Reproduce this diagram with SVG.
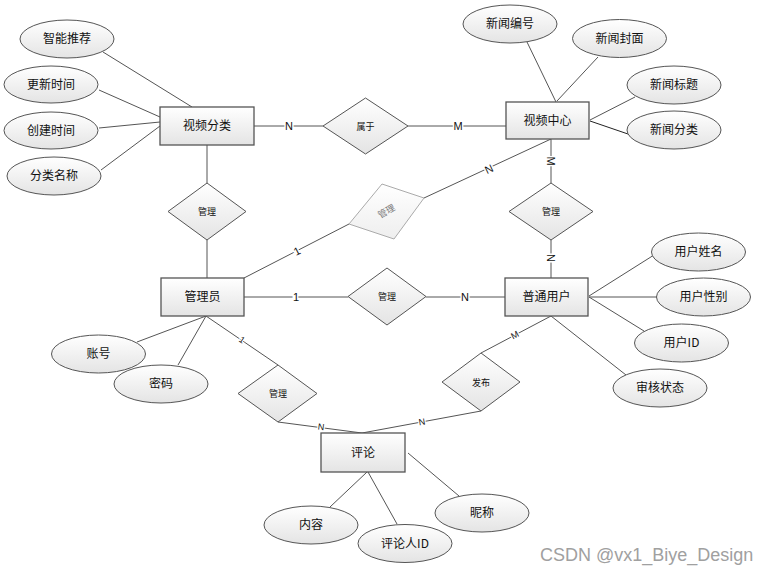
<svg xmlns="http://www.w3.org/2000/svg" width="771" height="574" viewBox="0 0 771 574">
<defs>
<linearGradient id="g" x1="0" y1="0" x2="0" y2="1"><stop offset="0" stop-color="#ffffff"/><stop offset="1" stop-color="#e4e4e4"/></linearGradient>
<linearGradient id="g2" x1="0" y1="0" x2="0" y2="1"><stop offset="0" stop-color="#ffffff"/><stop offset="1" stop-color="#eeeeee"/></linearGradient>
<style>
.ent rect{fill:url(#g);stroke:#555;stroke-width:1.3}
.att ellipse{fill:url(#g);stroke:#555;stroke-width:1}
.rel polygon{fill:url(#g);stroke:#555;stroke-width:1}
.t{font-family:"Noto Sans CJK SC","Liberation Sans",sans-serif;font-size:12px;fill:#111;text-anchor:middle}
.s{font-family:"Noto Sans CJK SC","Liberation Sans",sans-serif;font-size:9px;fill:#111;text-anchor:middle}
.c{font-family:"Liberation Sans",sans-serif;font-size:11px;fill:#111;text-anchor:middle;stroke:#fff;stroke-width:3;paint-order:stroke}
.cs{font-family:"Liberation Sans",sans-serif;font-size:9px;fill:#111;text-anchor:middle;stroke:#fff;stroke-width:2.5;paint-order:stroke}
#connectors line{stroke:#555;stroke-width:1}
</style>
</defs>
<rect width="771" height="574" fill="#fff"/>
<g id="connectors">
<line x1="103" y1="52" x2="192" y2="107"/>
<line x1="99" y1="90" x2="160" y2="117"/>
<line x1="99" y1="128" x2="160" y2="122"/>
<line x1="101" y1="170" x2="160" y2="126"/>
<line x1="254" y1="126" x2="323" y2="126"/>
<line x1="408" y1="126" x2="506" y2="126"/>
<line x1="207" y1="145" x2="207" y2="183"/>
<line x1="207" y1="240" x2="207" y2="278"/>
<line x1="551" y1="139" x2="551" y2="183"/>
<line x1="551" y1="240" x2="551" y2="278"/>
<line x1="244" y1="278" x2="349" y2="224"/>
<line x1="424" y1="198" x2="551" y2="139"/>
<line x1="244" y1="297" x2="348" y2="297"/>
<line x1="426" y1="297" x2="505" y2="297"/>
<line x1="206" y1="316" x2="137" y2="342"/>
<line x1="206" y1="316" x2="178" y2="365"/>
<line x1="206" y1="316" x2="278" y2="365"/>
<line x1="278" y1="422" x2="362" y2="433"/>
<line x1="362" y1="433" x2="481" y2="411"/>
<line x1="551" y1="316" x2="481" y2="353"/>
<line x1="551" y1="316" x2="626" y2="375"/>
<line x1="589" y1="296" x2="654" y2="255"/>
<line x1="589" y1="297" x2="657" y2="297"/>
<line x1="589" y1="297" x2="644" y2="331"/>
<line x1="556" y1="102" x2="527" y2="42"/>
<line x1="557" y1="101" x2="598" y2="57"/>
<line x1="590" y1="120" x2="635" y2="97"/>
<line x1="590" y1="121" x2="628" y2="134" style="stroke:#222"/>
<line x1="367" y1="472" x2="330" y2="507"/>
<line x1="368" y1="472" x2="397" y2="524"/>
<line x1="408" y1="453" x2="459" y2="496"/>
<text class="c" x="289" y="130">N</text>
<text class="c" x="458" y="130">M</text>
<text class="c" transform="translate(551,161) rotate(90)" y="4">M</text>
<text class="c" transform="translate(551,258) rotate(90)" y="4">N</text>
<text class="c" transform="translate(297,251) rotate(-27)" y="4">1</text>
<text class="c" transform="translate(489,169) rotate(-25)" y="4">N</text>
<text class="c" x="296" y="301">1</text>
<text class="c" x="465" y="301">N</text>
<text class="cs" transform="translate(242,340) rotate(34)" y="3">1</text>
<text class="cs" transform="translate(321,427) rotate(7)" y="3">N</text>
<text class="cs" transform="translate(422,422) rotate(-10)" y="3">N</text>
<text class="cs" transform="translate(515,335) rotate(-28)" y="3">M</text>
</g>
<g id="e-spfl" class="ent"><rect x="160" y="107" width="94" height="38"/><text class="t" x="207" y="130">视频分类</text></g>
<g id="e-spzx" class="ent"><rect x="506" y="102" width="83" height="37"/><text class="t" x="547.5" y="125">视频中心</text></g>
<g id="e-gly" class="ent"><rect x="161" y="278" width="83" height="38"/><text class="t" x="202.5" y="301">管理员</text></g>
<g id="e-ptyh" class="ent"><rect x="505" y="278" width="83" height="38"/><text class="t" x="546.5" y="301">普通用户</text></g>
<g id="e-pl" class="ent"><rect x="321" y="433" width="84" height="39"/><text class="t" x="363" y="457">评论</text></g>
<g id="r-sy" class="rel"><polygon points="365.5,98 408,126 365.5,154 323,126"/><text class="s" x="365.5" y="129.5">属于</text></g>
<g id="r-gl1" class="rel"><polygon points="207,183 246,211.5 207,240 168,211.5"/><text class="s" x="207" y="215">管理</text></g>
<g id="r-gl2" class="rel"><polygon points="551,183 593,211.5 551,240 509,211.5"/><text class="s" x="551" y="215">管理</text></g>
<g id="r-gl3" class="rel"><polygon points="382,184 424,198 394,239 349,224" style="fill:url(#g2);stroke:#aaa"/><text class="s" transform="translate(386.5,211.5) rotate(-30)" y="3" style="fill:#777">管理</text></g>
<g id="r-gl4" class="rel"><polygon points="387,268 426,296.5 387,325 348,296.5"/><text class="s" x="387" y="300">管理</text></g>
<g id="r-gl5" class="rel"><polygon points="278,365 317,393.5 278,422 238,393.5"/><text class="s" x="278" y="397">管理</text></g>
<g id="r-fb" class="rel"><polygon points="481,353 520,382 481,411 442,382"/><text class="s" x="481" y="385.5">发布</text></g>
<g id="a-zntj" class="att"><ellipse cx="67" cy="39" rx="47" ry="19"/><text class="t" x="67" y="43">智能推荐</text></g>
<g id="a-gxsj" class="att"><ellipse cx="51" cy="84.5" rx="47" ry="18.5"/><text class="t" x="51" y="88.5">更新时间</text></g>
<g id="a-cjsj" class="att"><ellipse cx="51" cy="130.5" rx="47" ry="18.5"/><text class="t" x="51" y="134.5">创建时间</text></g>
<g id="a-flmc" class="att"><ellipse cx="54" cy="176" rx="47" ry="19"/><text class="t" x="54" y="180">分类名称</text></g>
<g id="a-xwbh" class="att"><ellipse cx="510" cy="24" rx="47" ry="19"/><text class="t" x="510" y="28">新闻编号</text></g>
<g id="a-xwfm" class="att"><ellipse cx="619.5" cy="38.5" rx="47" ry="19"/><text class="t" x="619.5" y="42.5">新闻封面</text></g>
<g id="a-xwbt" class="att"><ellipse cx="674" cy="85" rx="47" ry="19"/><text class="t" x="674" y="89">新闻标题</text></g>
<g id="a-xwfl" class="att"><ellipse cx="674" cy="130" rx="47" ry="19"/><text class="t" x="674" y="134">新闻分类</text></g>
<g id="a-yhxm" class="att"><ellipse cx="698.5" cy="252" rx="47" ry="19"/><text class="t" x="698.5" y="256">用户姓名</text></g>
<g id="a-yhxb" class="att"><ellipse cx="703.5" cy="297" rx="47" ry="19"/><text class="t" x="703.5" y="301">用户性别</text></g>
<g id="a-yhid" class="att"><ellipse cx="681.5" cy="343" rx="47" ry="19"/><text class="t" x="681.5" y="347">用户ID</text></g>
<g id="a-shzt" class="att"><ellipse cx="660" cy="388" rx="47" ry="19"/><text class="t" x="660" y="392">审核状态</text></g>
<g id="a-zh" class="att"><ellipse cx="98.5" cy="354" rx="47" ry="19"/><text class="t" x="98.5" y="358">账号</text></g>
<g id="a-mm" class="att"><ellipse cx="161" cy="384" rx="47" ry="19"/><text class="t" x="161" y="388">密码</text></g>
<g id="a-nr" class="att"><ellipse cx="311" cy="525" rx="47" ry="19"/><text class="t" x="311" y="529">内容</text></g>
<g id="a-plrid" class="att"><ellipse cx="405" cy="543.5" rx="47" ry="19"/><text class="t" x="405" y="547.5">评论人ID</text></g>
<g id="a-nc" class="att"><ellipse cx="482" cy="513" rx="47" ry="19"/><text class="t" x="482" y="517">昵称</text></g>
<text x="540" y="561" style="font-family:'Liberation Sans',sans-serif;font-size:18px;fill:#a0a0a0">CSDN @vx1_Biye_Design</text>
</svg>
